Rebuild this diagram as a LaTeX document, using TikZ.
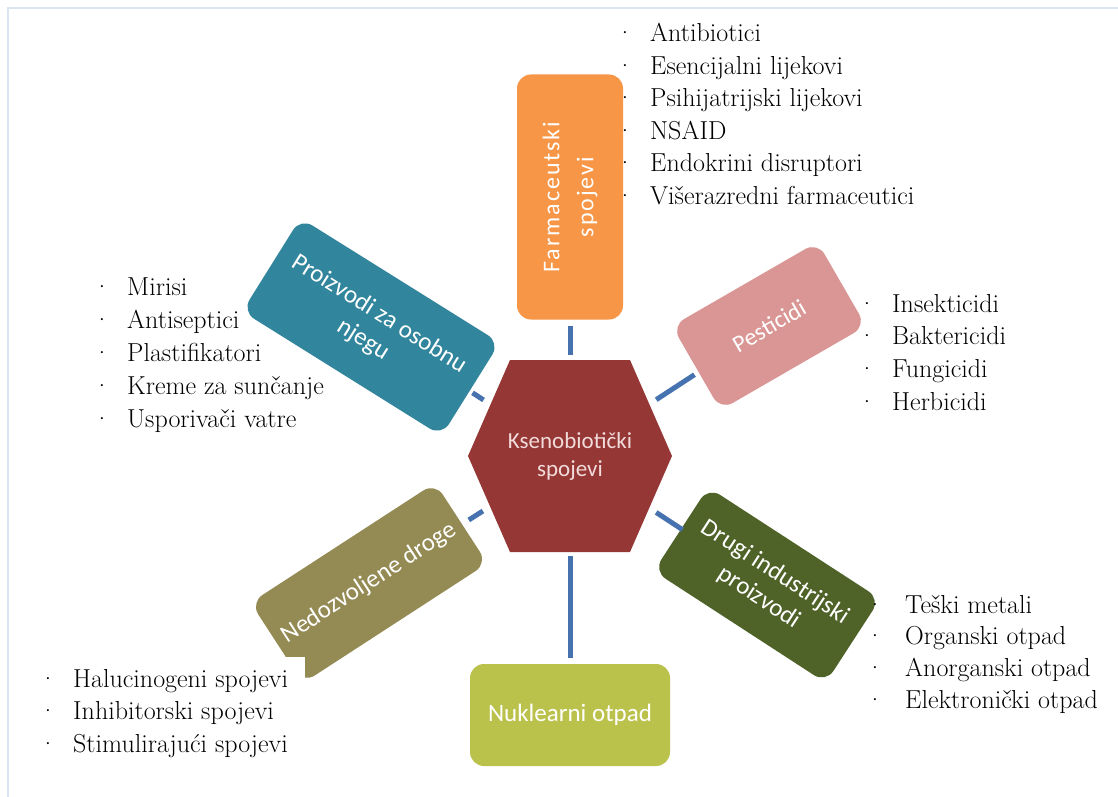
\documentclass[tikz,border=0pt]{standalone}
\usepackage{fontspec}
\newfontfamily\boxfont{Carlito}
\newfontfamily\boxfontwide{Carlito}[LetterSpace=8]
\usetikzlibrary{calc}
\definecolor{farmcol}{HTML}{F79646}
\definecolor{pestcol}{HTML}{D99694}
\definecolor{tealcol}{HTML}{31859C}
\definecolor{olivecol}{HTML}{948A54}
\definecolor{greencol}{HTML}{4F6228}
\definecolor{nuccol}{RGB}{187,194,76}
\definecolor{hexcol}{HTML}{953735}
\definecolor{hextext}{HTML}{F2DCDB}
\definecolor{spokecol}{RGB}{70,115,175}
\definecolor{framecol}{RGB}{219,229,241}
\tikzset{
  lbl/.style={rounded corners=14pt, inner sep=0pt, align=center, text=white,
    font=\boxfont\fontsize{25}{30}\selectfont},
  spoke/.style={draw=spokecol, line width=5pt},
  item/.style={anchor=base west, inner sep=0pt, font=\fontsize{26}{31}\selectfont},
  bul/.style={anchor=base, inner sep=0pt, font=\fontsize{26}{31}\selectfont},
}
\begin{document}
\begin{tikzpicture}[x=1pt,y=-1pt]
\useasboundingbox (0,0) rectangle (1118,797);
\fill[white] (0,0) rectangle (1118,797);
% frame
\draw[framecol, line width=2pt] (8,797) -- (8,8) -- (1118,8);
% boxes
\node[lbl, fill=farmcol, rotate=90, minimum width=245pt, minimum height=106pt,
  font=\boxfontwide\fontsize{24}{34}\selectfont] (farm) at (570,197) {Farmaceutski\\spojevi};
\node[lbl, fill=pestcol, rotate=30, minimum width=168pt, minimum height=97pt,
  font=\boxfont\fontsize{24}{29}\selectfont] (pest) at (769,326) {Pesticidi};
\node[lbl, fill=tealcol, rotate=-32, minimum width=235pt, minimum height=110pt] (teal) at (371,327) {Proizvodi za osobnu\\njegu};
\node[lbl, fill=olivecol, rotate=33, minimum width=220pt, minimum height=96pt] (olive) at (369,583) {Nedozvoljene droge};
\node[lbl, fill=greencol, rotate=-33, minimum width=205pt, minimum height=100pt] (green) at (767,585) {Drugi industrijski\\proizvodi};
\node[lbl, fill=nuccol, minimum width=200pt, minimum height=102pt] (nuc) at (570,715) {Nuklearni otpad};
% hexagon
\fill[hexcol] (468,456) -- (510,360) -- (630,360) -- (672,456) -- (630,552) -- (510,552) -- cycle;
\node[align=center, text=hextext, inner sep=0pt, font=\boxfont\fontsize{23}{28}\selectfont] (hub) at (570,456) {Ksenobiotički\\spojevi};
% spokes
\draw[spoke, shorten <=101pt, shorten >=129pt] (hub.center) -- (farm.center);
\draw[spoke, shorten <=100pt, shorten >=57pt] (hub.center) -- (nuc.center);
\draw[spoke, shorten <=103pt, shorten >=89pt] (hub.center) -- (pest.center);
\draw[spoke, shorten <=103pt, shorten >=121pt] (hub.center) -- (teal.center);
\draw[spoke, shorten <=103pt, shorten >=118pt] (hub.center) -- (olive.center);
\draw[spoke, shorten <=103pt, shorten >=101pt] (hub.center) -- (green.center);
% white text background at lower left
\fill[white] (15,657) rectangle (305,790);
% lists
\foreach \t [count=\i] in {Antibiotici, Esencijalni lijekovi, Psihijatrijski lijekovi, NSAID, Endokrini disruptori, Višerazredni farmaceutici}{
  \node[bul] (fb\i) at (625,{42+32.4*(\i-1)}) {·};
  \node[item] (fi\i) at (650,{42+32.4*(\i-1)}) {\t};
}
\foreach \t [count=\i] in {Mirisi, Antiseptici, Plastifikatori, Kreme za sunčanje, Usporivači vatre}{
  \node[bul] (tb\i) at (102,{295+33*(\i-1)}) {·};
  \node[item] (ti\i) at (127,{295+33*(\i-1)}) {\t};
}
\foreach \t [count=\i] in {Insekticidi, Baktericidi, Fungicidi, Herbicidi}{
  \node[bul] (pb\i) at (867,{312+32.7*(\i-1)}) {·};
  \node[item] (pi\i) at (892,{312+32.7*(\i-1)}) {\t};
}
\foreach \t [count=\i] in {Teški metali, Organski otpad, Anorganski otpad, Elektronički otpad}{
  \node[bul] (gb\i) at (875,{613+31.7*(\i-1)}) {·};
  \node[item] (gi\i) at (905,{613+31.7*(\i-1)}) {\t};
}
\foreach \t [count=\i] in {Halucinogeni spojevi, Inhibitorski spojevi, Stimulirajući spojevi}{
  \node[bul] (ob\i) at (48,{687+32.5*(\i-1)}) {·};
  \node[item] (oi\i) at (73,{687+32.5*(\i-1)}) {\t};
}
\end{tikzpicture}
\end{document}
